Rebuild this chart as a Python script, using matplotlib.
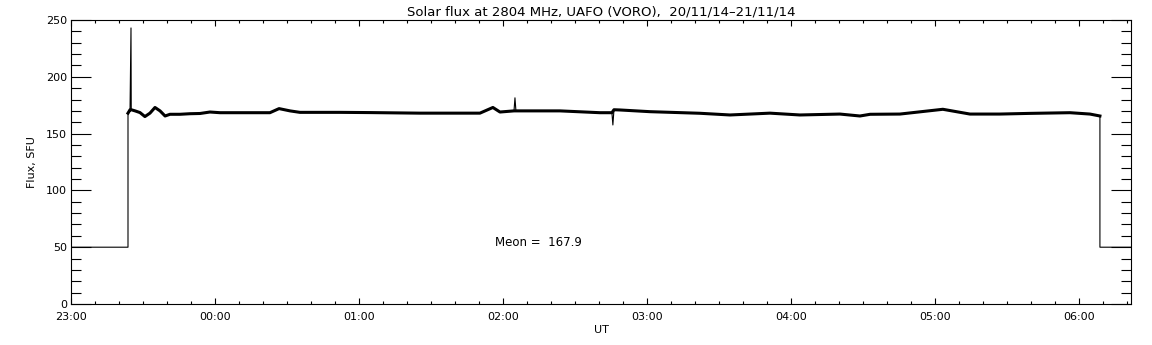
import matplotlib
matplotlib.use("Agg")
import matplotlib.pyplot as plt
import numpy as np
from matplotlib.ticker import MultipleLocator, FixedLocator

# time in minutes after 23:00 UT, flux in SFU
minutes = [0, 23.75, 23.75, 24.6, 25.0, 25.1, 26.7, 28.75, 30.8, 32.9, 35.0, 37.1, 39.2,
           41.25, 45.4, 49.6, 53.75, 57.9, 62.1, 74.6, 82.9, 86.7, 91.25, 95.4, 112.0,
           124.6, 145.4, 170.4, 175.8, 178.75, 184.6, 185.0, 185.4, 187.0, 203.75,
           220.4, 225.4, 225.8, 226.25, 228.75, 241.25, 262.0, 274.6, 291.25, 303.75,
           320.4, 328.75, 333.0, 345.4, 363.3, 374.6, 387.0, 399.6, 416.25, 424.6,
           428.75, 428.75, 441.7]
flux = [50, 50, 168, 171, 243, 171, 170, 168.5, 165, 168, 173, 170, 165.5,
        167, 167, 167.5, 167.7, 169, 168.4, 168.4, 168.4, 172, 170, 168.7, 168.7,
        168.5, 168, 168, 173, 169, 170, 181.5, 170, 170, 170,
        168.4, 168.4, 157.6, 171, 170.8, 169.3, 167.9, 166.4, 168, 166.4,
        167.2, 165.5, 167, 167.2, 171.4, 167.2, 167.2, 167.8, 168.4, 167.2,
        165.5, 50, 50]
spike_minutes = [25.0, 185.0, 225.8]

tick_labels = ["23:00", "00:00", "01:00", "02:00", "03:00", "04:00", "05:00", "06:00"]
title = "Solar flux at 2804 MHz, UAFO (VORO),  20/11/14\u201321/11/14"
mean_text = "Meon =  167.9"

fig = plt.figure(figsize=(11.52, 3.45), dpi=100)
ax = fig.add_axes([71/1152, 41/345, 1060/1152, 284/345])

ax.plot(minutes, flux, color="black", lw=0.8)
# thicker band for the noisy plateau (spikes excluded so they stay thin)
t = np.array(minutes)
f = np.array(flux)
keep = (f > 100) & ~np.isin(t, spike_minutes)
ax.plot(t[keep], f[keep], color="black", lw=2.2)

ax.set_xlim(0, 441.7)
ax.set_ylim(0, 250)
ax.xaxis.set_major_locator(FixedLocator([60 * i for i in range(len(tick_labels))]))
ax.set_xticklabels(tick_labels)
ax.xaxis.set_minor_locator(MultipleLocator(10))
ax.yaxis.set_major_locator(MultipleLocator(50))
ax.yaxis.set_minor_locator(MultipleLocator(10))

ax.tick_params(axis="x", which="major", direction="in", length=4, width=0.8,
               top=True, labelsize=8, pad=6)
ax.tick_params(axis="x", which="minor", direction="in", length=2, width=0.8, top=True)
ax.tick_params(axis="y", which="major", direction="in", length=14.5, width=0.8,
               right=True, labelsize=8, pad=3)
ax.tick_params(axis="y", which="minor", direction="in", length=7.3, width=0.8, right=True)
for s in ax.spines.values():
    s.set_linewidth(0.8)

ax.set_title(title, fontsize=9.5, pad=3)
ax.set_xlabel("UT", fontsize=8, labelpad=2)
ax.set_ylabel("Flux, SFU", fontsize=8, labelpad=6.5)
ax.text(176.7, 53.7, mean_text, fontsize=8.5, ha="left", va="center")

fig.savefig("out.png", dpi=100)
